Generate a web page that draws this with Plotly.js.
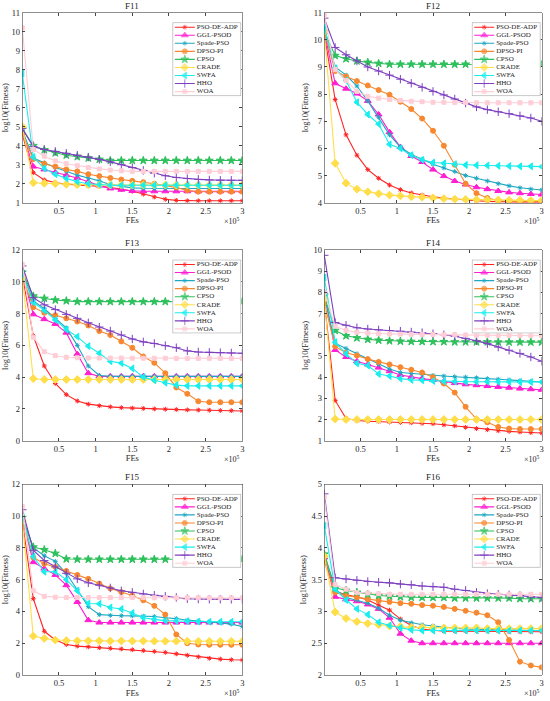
<!DOCTYPE html>
<html>
<head>
<meta charset="utf-8">
<script src="https://cdn.plot.ly/plotly-3.0.1.min.js"></script>
<style>html,body{margin:0;padding:0;background:#fff;}#chart{width:550px;height:701px;}</style>
</head>
<body>
<div id="chart"></div>
<script>
const algorithms = ["PSO-DE-ADP","GGL-PSOD","Spade-PSO","DPSO-PI","CPSO","CRADE","SWFA","HHO","WOA"];
const FEs = [0,0.15,0.3,0.45,0.6,0.75,0.9,1.05,1.2,1.35,1.5,1.65,1.8,1.95,2.1,2.25,2.4,2.55,2.7,2.85,3];
const functionNames = ["F11","F12","F13","F14","F15","F16"];

const F11 = [
 [4.6,2.58,2.2,2.05,1.98,1.93,1.9,1.87,1.8,1.72,1.6,1.45,1.3,1.18,1.12,1.1,1.1,1.1,1.1,1.1,1.1],
 [4.7,2.9,2.75,2.6,2.45,2.3,2.1,1.9,1.75,1.68,1.62,1.6,1.6,1.6,1.6,1.6,1.6,1.6,1.6,1.6,1.6],
 [4.8,3.35,3.1,2.85,2.65,2.45,2.3,2.15,1.95,1.85,1.78,1.76,1.75,1.75,1.75,1.75,1.75,1.75,1.75,1.75,1.75],
 [4.6,3.3,3.05,2.9,2.75,2.65,2.5,2.4,2.3,2.22,2.15,2.08,2.0,1.9,1.8,1.65,1.58,1.58,1.58,1.58,1.58],
 [4.9,4.0,3.78,3.62,3.5,3.42,3.35,3.28,3.22,3.22,3.22,3.22,3.22,3.22,3.22,3.22,3.22,3.22,3.22,3.22,3.22],
 [5.0,2.05,2.02,2.0,1.97,1.95,1.94,1.93,1.93,1.93,1.93,1.93,1.93,1.93,1.93,1.93,1.93,1.93,1.93,1.93,1.93],
 [7.8,3.4,2.8,2.5,2.28,2.1,2.0,1.95,1.92,1.92,1.92,1.92,1.92,1.92,1.92,1.92,1.92,1.92,1.92,1.92,1.92],
 [4.9,3.95,3.8,3.7,3.6,3.5,3.4,3.28,3.15,3.0,2.85,2.7,2.55,2.42,2.33,2.27,2.23,2.2,2.18,2.18,2.18],
 [10.2,3.8,3.45,3.2,3.05,2.95,2.85,2.78,2.72,2.68,2.65,2.65,2.65,2.65,2.65,2.65,2.65,2.65,2.65,2.65,2.65]
];
const F12 = [
 [10.2,7.8,6.5,5.75,5.22,4.9,4.65,4.48,4.36,4.28,4.22,4.17,4.13,4.1,4.07,4.05,4.03,4.03,4.02,4.02,4.02],
 [10.3,8.4,8.2,8.02,7.75,7.25,6.6,6.05,5.72,5.5,5.22,4.98,4.8,4.67,4.57,4.5,4.43,4.38,4.35,4.32,4.3],
 [10.4,9.0,8.7,8.3,7.75,7.15,6.5,6.05,5.78,5.6,5.42,5.28,5.15,5.0,4.9,4.8,4.7,4.62,4.55,4.5,4.47],
 [10.3,8.85,8.65,8.48,8.32,8.15,7.98,7.72,7.45,7.1,6.65,6.1,5.4,4.7,4.35,4.17,4.08,4.05,4.05,4.05,4.05],
 [10.3,9.42,9.3,9.22,9.17,9.13,9.1,9.1,9.1,9.1,9.1,9.1,9.1,9.1,9.1,9.1,9.1,9.09,9.09,9.08,9.08],
 [10.3,5.45,4.72,4.5,4.4,4.33,4.28,4.25,4.22,4.2,4.18,4.15,4.13,4.12,4.11,4.1,4.1,4.09,4.09,4.08,4.08],
 [10.45,8.95,8.5,7.7,7.25,6.9,6.15,6.0,5.75,5.58,5.48,5.45,5.42,5.39,5.38,5.37,5.36,5.35,5.34,5.34,5.33],
 [10.8,9.72,9.45,9.22,9.0,8.85,8.7,8.55,8.4,8.25,8.1,7.97,7.82,7.67,7.53,7.43,7.35,7.28,7.2,7.12,7.0],
 [10.9,8.9,8.5,8.1,7.92,7.85,7.8,7.77,7.74,7.72,7.7,7.7,7.69,7.69,7.68,7.68,7.68,7.68,7.68,7.68,7.68]
];
const F13 = [
 [10.4,6.6,4.7,3.6,2.9,2.5,2.3,2.2,2.13,2.08,2.05,2.03,2.0,1.98,1.96,1.94,1.93,1.92,1.9,1.89,1.87],
 [10.5,7.95,7.65,7.35,6.8,5.45,4.25,4.05,4.05,4.05,4.05,4.05,4.05,4.05,4.05,4.05,4.05,4.05,4.05,4.05,4.05],
 [10.6,8.8,8.3,7.7,7.1,6.0,4.7,4.1,4.05,4.05,4.05,4.05,4.05,4.05,4.05,4.05,4.05,4.05,4.05,4.05,4.05],
 [10.3,8.4,8.05,7.9,7.7,7.5,7.25,6.9,6.65,6.25,5.85,5.3,4.9,4.25,3.35,2.95,2.48,2.42,2.42,2.42,2.42],
 [10.6,9.1,8.95,8.85,8.8,8.75,8.75,8.75,8.75,8.75,8.75,8.75,8.75,8.75,8.75,8.75,8.75,8.75,8.75,8.75,8.75],
 [10.3,3.9,3.85,3.85,3.85,3.85,3.85,3.85,3.85,3.85,3.85,3.85,3.85,3.85,3.85,3.85,3.85,3.85,3.85,3.85,3.85],
 [10.5,8.7,8.2,7.6,7.0,6.55,5.95,5.5,5.0,4.88,4.55,4.0,3.8,3.65,3.5,3.45,3.45,3.45,3.45,3.45,3.45],
 [11.0,9.0,8.55,8.25,7.95,7.7,7.42,7.15,6.9,6.65,6.4,6.22,6.12,5.98,5.85,5.65,5.58,5.56,5.54,5.52,5.5],
 [11.1,6.5,5.6,5.35,5.25,5.22,5.2,5.2,5.2,5.2,5.19,5.19,5.19,5.19,5.18,5.18,5.18,5.18,5.18,5.18,5.18]
];
const F14 = [
 [7.6,2.9,2.05,1.95,1.92,1.9,1.88,1.86,1.85,1.82,1.8,1.75,1.7,1.63,1.57,1.52,1.47,1.44,1.41,1.38,1.36],
 [8.0,5.28,4.95,4.75,4.6,4.45,4.28,4.1,4.0,3.93,3.87,3.8,3.72,3.66,3.62,3.58,3.54,3.5,3.46,3.43,3.4],
 [7.8,5.6,5.35,5.1,4.85,4.6,4.38,4.22,4.17,4.12,4.08,4.05,4.02,4.0,3.97,3.93,3.9,3.87,3.83,3.8,3.77],
 [7.5,5.45,5.15,5.02,4.85,4.72,4.6,4.47,4.35,4.22,4.0,3.7,3.27,2.6,2.02,1.87,1.65,1.57,1.55,1.55,1.55],
 [7.85,6.2,5.95,5.85,5.78,5.74,5.71,5.69,5.68,5.68,5.67,5.67,5.66,5.66,5.66,5.66,5.65,5.65,5.65,5.65,5.65],
 [7.7,2.02,2.0,2.0,2.0,2.0,2.0,2.0,2.0,2.0,2.0,2.0,2.0,2.0,2.0,2.0,2.0,2.0,2.0,2.0,2.0],
 [8.7,5.65,5.1,4.65,4.55,4.15,4.05,3.93,3.87,3.85,3.82,3.8,3.79,3.78,3.78,3.78,3.78,3.78,3.77,3.77,3.77],
 [9.75,6.58,6.45,6.33,6.27,6.23,6.2,6.17,6.13,6.1,6.05,6.0,5.93,5.83,5.72,5.58,5.42,5.27,5.12,4.95,4.75],
 [8.0,6.4,6.2,6.12,6.08,6.05,6.04,6.03,6.02,6.02,6.01,6.0,6.0,5.99,5.98,5.98,5.97,5.97,5.96,5.96,5.95]
];
const F15 = [
 [9.7,4.8,2.75,2.2,1.92,1.82,1.77,1.72,1.68,1.64,1.59,1.54,1.48,1.42,1.33,1.24,1.14,1.05,1.0,0.96,0.94],
 [9.8,7.1,6.7,6.3,5.65,4.6,3.45,3.3,3.3,3.3,3.3,3.3,3.3,3.3,3.3,3.3,3.3,3.3,3.3,3.3,3.3],
 [9.9,8.0,7.5,7.15,6.4,5.35,4.3,3.8,3.75,3.73,3.72,3.7,3.68,3.6,3.55,3.45,3.4,3.35,3.28,3.2,3.05],
 [9.75,7.4,7.0,6.8,6.55,6.3,6.05,5.75,5.45,5.22,5.0,4.7,4.35,3.8,2.55,2.0,1.92,1.9,1.9,1.9,1.9],
 [9.9,8.05,7.88,7.65,7.3,7.28,7.28,7.28,7.28,7.28,7.28,7.28,7.28,7.28,7.28,7.28,7.28,7.28,7.28,7.28,7.28],
 [9.7,2.45,2.3,2.2,2.17,2.15,2.15,2.15,2.14,2.14,2.14,2.14,2.13,2.13,2.13,2.13,2.12,2.12,2.12,2.12,2.12],
 [10.0,7.45,6.5,6.5,6.0,5.3,4.5,4.48,4.25,4.15,3.9,3.6,3.5,3.42,3.4,3.38,3.36,3.35,3.35,3.35,3.35],
 [10.4,7.85,7.2,6.8,6.4,6.05,5.8,5.65,5.48,5.3,5.2,5.1,5.02,4.95,4.88,4.8,4.78,4.77,4.77,4.76,4.76],
 [10.6,5.3,4.95,4.9,4.88,4.88,4.88,4.88,4.87,4.87,4.87,4.87,4.86,4.86,4.86,4.86,4.86,4.85,4.85,4.85,4.85]
];
const F16 = [
 [3.82,3.32,3.26,3.23,3.18,3.1,3.02,2.88,2.78,2.72,2.7,2.69,2.69,2.69,2.69,2.69,2.69,2.68,2.68,2.68,2.68],
 [3.85,3.23,3.19,3.16,3.11,3.04,2.9,2.65,2.54,2.5,2.5,2.5,2.5,2.5,2.5,2.5,2.5,2.5,2.5,2.5,2.5],
 [3.9,3.35,3.22,3.18,3.13,3.05,2.94,2.86,2.82,2.79,2.77,2.75,2.73,2.72,2.72,2.71,2.71,2.71,2.7,2.7,2.7],
 [3.78,3.3,3.25,3.22,3.19,3.17,3.15,3.13,3.12,3.1,3.09,3.07,3.04,3.01,2.98,2.94,2.83,2.55,2.21,2.15,2.12],
 [3.9,3.37,3.33,3.3,3.27,3.25,3.24,3.23,3.22,3.22,3.22,3.22,3.21,3.21,3.21,3.21,3.21,3.21,3.2,3.2,3.2],
 [3.87,2.99,2.89,2.84,2.81,2.79,2.77,2.76,2.75,2.75,2.74,2.74,2.74,2.74,2.74,2.73,2.73,2.73,2.73,2.73,2.73],
 [4.35,3.35,3.18,3.04,2.95,2.83,2.78,2.74,2.71,2.7,2.7,2.7,2.7,2.7,2.7,2.7,2.7,2.7,2.7,2.7,2.7],
 [4.85,3.53,3.51,3.49,3.47,3.46,3.45,3.43,3.42,3.4,3.39,3.38,3.35,3.33,3.3,3.28,3.27,3.26,3.25,3.23,3.22],
 [4.8,3.42,3.35,3.3,3.29,3.28,3.27,3.27,3.27,3.27,3.27,3.27,3.27,3.27,3.27,3.27,3.27,3.27,3.27,3.27,3.27]
];
const allData = [F11,F12,F13,F14,F15,F16];

const yRanges = [[1,11],[4,11],[0,12],[1,10],[0,12],[2,5]];
const yTicks = [
 [1,2,3,4,5,6,7,8,9,10,11],
 [4,5,6,7,8,9,10,11],
 [0,2,4,6,8,10,12],
 [1,2,3,4,5,6,7,8,9,10],
 [0,2,4,6,8,10,12],
 [2,2.5,3,3.5,4,4.5,5]
];
const xTicks = [0.5,1,1.5,2,2.5,3];
const xTickText = ["0.5","1","1.5","2","2.5","3"];

// styling
const colors = ["#FF2323","#FF1ED2","#1FA8C2","#F7882F","#2EC05C","#FFDE4A","#18EEEE","#7E3FC0","#FFCDD6"];
const symbols = ["asterisk-open","triangle-up","asterisk-open","circle","star","diamond","triangle-left","cross-thin-open","square"];
const msizes = [4,6,4,5,6,6,6,6,4];

const W = 550, H = 701;
const FONT = "Liberation Serif, Times New Roman, serif";
// pixel boxes of axes [left, right, top, bottom]
const boxes = [
 [22.3,242.3,12.7,202.7],
 [324.3,541.7,12.7,202.7],
 [22.3,242.3,250,440.7],
 [324.3,541.7,250,440.7],
 [22.3,242.3,484.3,675],
 [324.3,541.7,484.3,675]
];

const traces = [];
const layout = {
  width: W, height: H,
  margin: {l:0,r:0,t:0,b:0},
  paper_bgcolor: "#fff", plot_bgcolor: "#fff",
  showlegend: false,
  font: {family: FONT, size: 8.5, color: "#262626"},
  annotations: []
};

for (let i = 0; i < 6; i++) {
  const b = boxes[i];
  const n = i + 1;
  const xa = n === 1 ? "xaxis" : "xaxis" + n;
  const ya = n === 1 ? "yaxis" : "yaxis" + n;
  const xr = n === 1 ? "x" : "x" + n;
  const yr = n === 1 ? "y" : "y" + n;
  layout[xa] = {
    domain: [b[0]/W, b[1]/W], anchor: yr, range: [0,3],
    tickvals: xTicks, ticktext: xTickText,
    ticks: "inside", ticklen: 3, tickcolor: "#444",
    showline: true, linecolor: "#444", linewidth: 0.6, mirror: "ticks",
    showgrid: false, zeroline: false,
    tickfont: {family: FONT, size: 8.5, color: "#262626"},
    title: {text: "FEs", font: {family: FONT, size: 8.5, color: "#262626"}, standoff: 2}
  };
  layout[ya] = {
    domain: [1 - b[3]/H, 1 - b[2]/H], anchor: xr, range: yRanges[i],
    tickvals: yTicks[i],
    ticks: "inside", ticklen: 3, tickcolor: "#444",
    showline: true, linecolor: "#444", linewidth: 0.6, mirror: "ticks",
    showgrid: false, zeroline: false,
    tickfont: {family: FONT, size: 8.5, color: "#262626"},
    title: {text: "log10(Fitness)", font: {family: FONT, size: 8.5, color: "#262626"}, standoff: 3}
  };
  layout.annotations.push({
    text: functionNames[i], xref: xr + " domain", yref: yr + " domain",
    x: 0.5, y: 1, yshift: 7, showarrow: false, xanchor: "center", yanchor: "middle",
    font: {family: FONT, size: 9, color: "#262626"}
  });
  layout.annotations.push({
    text: "×10<sup>5</sup>", xref: xr + " domain", yref: yr + " domain",
    x: 1, y: 0, yshift: -18, showarrow: false, xanchor: "right", yanchor: "middle",
    font: {family: FONT, size: 8, color: "#262626"}
  });
  const data = allData[i];
  for (let k = 0; k < algorithms.length; k++) {
    traces.push({
      type: "scatter", mode: "lines+markers", name: algorithms[k],
      x: FEs, y: data[k], xaxis: xr, yaxis: yr,
      line: {color: colors[k], width: 1.1},
      marker: {symbol: symbols[k], size: msizes[k], color: colors[k], line: {color: colors[k], width: 1}},
      cliponaxis: true, hoverinfo: "skip"
    });
  }
}

// custom compact legends (one per subplot) drawn on hidden overlay axes
const LW = 69, LH = 74;
for (let i = 0; i < 6; i++) {
  const b = boxes[i];
  const n = i + 7;
  const xr = "x" + n, yr = "y" + n;
  const right = b[1] - 1, left = right - LW, top = b[2] + 9.5, bottom = top + LH;
  layout["xaxis" + n] = {domain: [left/W, right/W], anchor: yr, range: [0, LW], visible: false, fixedrange: true};
  layout["yaxis" + n] = {domain: [1 - bottom/H, 1 - top/H], anchor: xr, range: [LH, 0], visible: false, fixedrange: true};
  traces.push({
    type: "scatter", mode: "lines", x: [0.4, LW-0.4, LW-0.4, 0.4, 0.4], y: [0.4, 0.4, LH-0.4, LH-0.4, 0.4],
    fill: "toself", fillcolor: "#ffffff", line: {color: "#8a8a8a", width: 0.6},
    xaxis: xr, yaxis: yr, hoverinfo: "skip"
  });
  const ys = [];
  for (let k = 0; k < algorithms.length; k++) {
    const yk = 5 + 8.05 * k;
    ys.push(yk);
    traces.push({
      type: "scatter", mode: "lines+markers", x: [2.5, 12.5, 22.5], y: [yk, yk, yk],
      xaxis: xr, yaxis: yr, hoverinfo: "skip",
      line: {color: colors[k], width: 1.1},
      marker: {symbol: symbols[k], size: [0, msizes[k], 0], color: colors[k], line: {color: colors[k], width: 1}}
    });
  }
  traces.push({
    type: "scatter", mode: "text", x: algorithms.map(() => 24.5), y: ys, text: algorithms,
    textposition: "middle right", textfont: {family: FONT, size: 7, color: "#262626"},
    xaxis: xr, yaxis: yr, hoverinfo: "skip", cliponaxis: false
  });
}

Plotly.newPlot("chart", traces, layout, {displayModeBar: false, staticPlot: true});
</script>
</body>
</html>
